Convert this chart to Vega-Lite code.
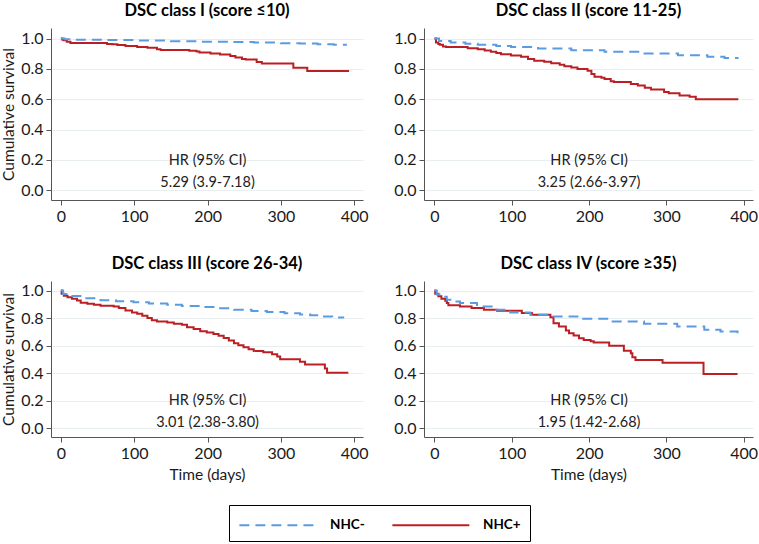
{
"$schema": "https://vega.github.io/schema/vega-lite/v6.json",
"padding": {"left": 1, "top": 2, "right": 0, "bottom": 0},
"background": "white",
"config": {
  "font": "Lato",
  "view": {"stroke": null},
  "title": {"fontSize": 16.5, "fontWeight": "bold", "color": "#000", "offset": 9, "font": "Lato"},
  "axis": {"domainColor": "#555", "tickColor": "#555", "tickSize": 5, "labelFontSize": 16, "labelColor": "#1a1a1a", "labelFont": "Lato", "titleFont": "Lato", "titleFontSize": 15.5, "titleFontWeight": "normal", "titleColor": "#1a1a1a", "gridColor": "#e9eff1", "labelPadding": 3, "labelOverlap": false},
  "axisX": {"grid": false},
  "legend": {"orient": "bottom", "direction": "horizontal", "strokeColor": "#000", "padding": 9, "offset": 22, "symbolType": "M-1,0H7", "symbolSize": 370, "symbolStrokeWidth": 2, "labelFontSize": 13.5, "labelFontWeight": "bold", "labelColor": "#000", "labelOffset": 70, "columnPadding": 23, "layout": {"bottom": {"anchor": "middle"}}}
},
"datasets": {
  "curves": [
    {"p":1,"g":"NHC+","t":0,"s":1.0},{"p":1,"g":"NHC+","t":2,"s":0.993},{"p":1,"g":"NHC+","t":4,"s":0.989},{"p":1,"g":"NHC+","t":8,"s":0.98},{"p":1,"g":"NHC+","t":13,"s":0.971},{"p":1,"g":"NHC+","t":63,"s":0.965},{"p":1,"g":"NHC+","t":70,"s":0.962},{"p":1,"g":"NHC+","t":77,"s":0.958},{"p":1,"g":"NHC+","t":88,"s":0.952},{"p":1,"g":"NHC+","t":104,"s":0.945},{"p":1,"g":"NHC+","t":118,"s":0.939},{"p":1,"g":"NHC+","t":131,"s":0.93},{"p":1,"g":"NHC+","t":136,"s":0.925},{"p":1,"g":"NHC+","t":175,"s":0.92},{"p":1,"g":"NHC+","t":185,"s":0.915},{"p":1,"g":"NHC+","t":189,"s":0.908},{"p":1,"g":"NHC+","t":204,"s":0.901},{"p":1,"g":"NHC+","t":217,"s":0.895},{"p":1,"g":"NHC+","t":231,"s":0.886},{"p":1,"g":"NHC+","t":238,"s":0.875},{"p":1,"g":"NHC+","t":247,"s":0.866},{"p":1,"g":"NHC+","t":252,"s":0.862},{"p":1,"g":"NHC+","t":267,"s":0.846},{"p":1,"g":"NHC+","t":274,"s":0.835},{"p":1,"g":"NHC+","t":317,"s":0.807},{"p":1,"g":"NHC+","t":336,"s":0.787},{"p":1,"g":"NHC+","t":393,"s":0.787},
    {"p":1,"g":"NHC-","t":0,"s":1.0},{"p":1,"g":"NHC-","t":5,"s":0.996},{"p":1,"g":"NHC-","t":20,"s":0.993},{"p":1,"g":"NHC-","t":60,"s":0.99},{"p":1,"g":"NHC-","t":100,"s":0.987},{"p":1,"g":"NHC-","t":150,"s":0.983},{"p":1,"g":"NHC-","t":190,"s":0.98},{"p":1,"g":"NHC-","t":230,"s":0.977},{"p":1,"g":"NHC-","t":263,"s":0.974},{"p":1,"g":"NHC-","t":300,"s":0.97},{"p":1,"g":"NHC-","t":326,"s":0.967},{"p":1,"g":"NHC-","t":350,"s":0.963},{"p":1,"g":"NHC-","t":372,"s":0.96},{"p":1,"g":"NHC-","t":390,"s":0.96},
    {"p":2,"g":"NHC+","t":0,"s":1.0},{"p":2,"g":"NHC+","t":2,"s":0.974},{"p":2,"g":"NHC+","t":5,"s":0.965},{"p":2,"g":"NHC+","t":7,"s":0.959},{"p":2,"g":"NHC+","t":11,"s":0.948},{"p":2,"g":"NHC+","t":15,"s":0.945},{"p":2,"g":"NHC+","t":43,"s":0.937},{"p":2,"g":"NHC+","t":56,"s":0.93},{"p":2,"g":"NHC+","t":65,"s":0.921},{"p":2,"g":"NHC+","t":73,"s":0.913},{"p":2,"g":"NHC+","t":80,"s":0.905},{"p":2,"g":"NHC+","t":86,"s":0.897},{"p":2,"g":"NHC+","t":99,"s":0.889},{"p":2,"g":"NHC+","t":112,"s":0.88},{"p":2,"g":"NHC+","t":121,"s":0.865},{"p":2,"g":"NHC+","t":129,"s":0.854},{"p":2,"g":"NHC+","t":142,"s":0.847},{"p":2,"g":"NHC+","t":151,"s":0.838},{"p":2,"g":"NHC+","t":162,"s":0.828},{"p":2,"g":"NHC+","t":168,"s":0.817},{"p":2,"g":"NHC+","t":177,"s":0.81},{"p":2,"g":"NHC+","t":185,"s":0.799},{"p":2,"g":"NHC+","t":198,"s":0.788},{"p":2,"g":"NHC+","t":203,"s":0.766},{"p":2,"g":"NHC+","t":207,"s":0.749},{"p":2,"g":"NHC+","t":216,"s":0.742},{"p":2,"g":"NHC+","t":220,"s":0.734},{"p":2,"g":"NHC+","t":228,"s":0.718},{"p":2,"g":"NHC+","t":232,"s":0.714},{"p":2,"g":"NHC+","t":254,"s":0.7},{"p":2,"g":"NHC+","t":263,"s":0.69},{"p":2,"g":"NHC+","t":272,"s":0.675},{"p":2,"g":"NHC+","t":280,"s":0.664},{"p":2,"g":"NHC+","t":297,"s":0.648},{"p":2,"g":"NHC+","t":303,"s":0.64},{"p":2,"g":"NHC+","t":317,"s":0.624},{"p":2,"g":"NHC+","t":330,"s":0.616},{"p":2,"g":"NHC+","t":338,"s":0.6},{"p":2,"g":"NHC+","t":393,"s":0.6},
    {"p":2,"g":"NHC-","t":0,"s":1.0},{"p":2,"g":"NHC-","t":6,"s":0.985},{"p":2,"g":"NHC-","t":21,"s":0.974},{"p":2,"g":"NHC-","t":40,"s":0.966},{"p":2,"g":"NHC-","t":56,"s":0.959},{"p":2,"g":"NHC-","t":80,"s":0.951},{"p":2,"g":"NHC-","t":99,"s":0.945},{"p":2,"g":"NHC-","t":134,"s":0.934},{"p":2,"g":"NHC-","t":177,"s":0.924},{"p":2,"g":"NHC-","t":220,"s":0.913},{"p":2,"g":"NHC-","t":267,"s":0.902},{"p":2,"g":"NHC-","t":315,"s":0.891},{"p":2,"g":"NHC-","t":353,"s":0.88},{"p":2,"g":"NHC-","t":375,"s":0.872},{"p":2,"g":"NHC-","t":392,"s":0.865},
    {"p":3,"g":"NHC+","t":0,"s":1.0},{"p":3,"g":"NHC+","t":1,"s":0.978},{"p":3,"g":"NHC+","t":4,"s":0.963},{"p":3,"g":"NHC+","t":9,"s":0.951},{"p":3,"g":"NHC+","t":15,"s":0.941},{"p":3,"g":"NHC+","t":22,"s":0.929},{"p":3,"g":"NHC+","t":27,"s":0.912},{"p":3,"g":"NHC+","t":36,"s":0.905},{"p":3,"g":"NHC+","t":45,"s":0.898},{"p":3,"g":"NHC+","t":54,"s":0.89},{"p":3,"g":"NHC+","t":72,"s":0.885},{"p":3,"g":"NHC+","t":79,"s":0.873},{"p":3,"g":"NHC+","t":88,"s":0.856},{"p":3,"g":"NHC+","t":97,"s":0.841},{"p":3,"g":"NHC+","t":104,"s":0.832},{"p":3,"g":"NHC+","t":111,"s":0.817},{"p":3,"g":"NHC+","t":118,"s":0.8},{"p":3,"g":"NHC+","t":124,"s":0.785},{"p":3,"g":"NHC+","t":131,"s":0.776},{"p":3,"g":"NHC+","t":145,"s":0.768},{"p":3,"g":"NHC+","t":154,"s":0.759},{"p":3,"g":"NHC+","t":165,"s":0.751},{"p":3,"g":"NHC+","t":172,"s":0.734},{"p":3,"g":"NHC+","t":181,"s":0.72},{"p":3,"g":"NHC+","t":190,"s":0.705},{"p":3,"g":"NHC+","t":199,"s":0.695},{"p":3,"g":"NHC+","t":208,"s":0.685},{"p":3,"g":"NHC+","t":215,"s":0.671},{"p":3,"g":"NHC+","t":222,"s":0.656},{"p":3,"g":"NHC+","t":229,"s":0.637},{"p":3,"g":"NHC+","t":236,"s":0.617},{"p":3,"g":"NHC+","t":242,"s":0.602},{"p":3,"g":"NHC+","t":249,"s":0.588},{"p":3,"g":"NHC+","t":256,"s":0.573},{"p":3,"g":"NHC+","t":263,"s":0.561},{"p":3,"g":"NHC+","t":276,"s":0.551},{"p":3,"g":"NHC+","t":288,"s":0.537},{"p":3,"g":"NHC+","t":295,"s":0.52},{"p":3,"g":"NHC+","t":299,"s":0.5},{"p":3,"g":"NHC+","t":326,"s":0.483},{"p":3,"g":"NHC+","t":333,"s":0.463},{"p":3,"g":"NHC+","t":360,"s":0.434},{"p":3,"g":"NHC+","t":363,"s":0.402},{"p":3,"g":"NHC+","t":392,"s":0.402},
    {"p":3,"g":"NHC-","t":0,"s":1.0},{"p":3,"g":"NHC-","t":3,"s":0.975},{"p":3,"g":"NHC-","t":10,"s":0.96},{"p":3,"g":"NHC-","t":30,"s":0.945},{"p":3,"g":"NHC-","t":54,"s":0.93},{"p":3,"g":"NHC-","t":75,"s":0.922},{"p":3,"g":"NHC-","t":99,"s":0.915},{"p":3,"g":"NHC-","t":120,"s":0.906},{"p":3,"g":"NHC-","t":145,"s":0.898},{"p":3,"g":"NHC-","t":165,"s":0.889},{"p":3,"g":"NHC-","t":190,"s":0.88},{"p":3,"g":"NHC-","t":210,"s":0.871},{"p":3,"g":"NHC-","t":236,"s":0.861},{"p":3,"g":"NHC-","t":260,"s":0.852},{"p":3,"g":"NHC-","t":281,"s":0.844},{"p":3,"g":"NHC-","t":305,"s":0.835},{"p":3,"g":"NHC-","t":326,"s":0.827},{"p":3,"g":"NHC-","t":340,"s":0.82},{"p":3,"g":"NHC-","t":354,"s":0.812},{"p":3,"g":"NHC-","t":370,"s":0.805},{"p":3,"g":"NHC-","t":385,"s":0.798},
    {"p":4,"g":"NHC+","t":0,"s":1.0},{"p":4,"g":"NHC+","t":1,"s":0.978},{"p":4,"g":"NHC+","t":5,"s":0.959},{"p":4,"g":"NHC+","t":9,"s":0.941},{"p":4,"g":"NHC+","t":14,"s":0.927},{"p":4,"g":"NHC+","t":16,"s":0.91},{"p":4,"g":"NHC+","t":18,"s":0.893},{"p":4,"g":"NHC+","t":33,"s":0.885},{"p":4,"g":"NHC+","t":48,"s":0.873},{"p":4,"g":"NHC+","t":64,"s":0.861},{"p":4,"g":"NHC+","t":81,"s":0.854},{"p":4,"g":"NHC+","t":113,"s":0.837},{"p":4,"g":"NHC+","t":126,"s":0.824},{"p":4,"g":"NHC+","t":150,"s":0.807},{"p":4,"g":"NHC+","t":154,"s":0.763},{"p":4,"g":"NHC+","t":161,"s":0.739},{"p":4,"g":"NHC+","t":170,"s":0.71},{"p":4,"g":"NHC+","t":174,"s":0.69},{"p":4,"g":"NHC+","t":180,"s":0.673},{"p":4,"g":"NHC+","t":187,"s":0.654},{"p":4,"g":"NHC+","t":193,"s":0.641},{"p":4,"g":"NHC+","t":202,"s":0.632},{"p":4,"g":"NHC+","t":206,"s":0.622},{"p":4,"g":"NHC+","t":226,"s":0.598},{"p":4,"g":"NHC+","t":245,"s":0.563},{"p":4,"g":"NHC+","t":254,"s":0.544},{"p":4,"g":"NHC+","t":256,"s":0.515},{"p":4,"g":"NHC+","t":260,"s":0.495},{"p":4,"g":"NHC+","t":295,"s":0.476},{"p":4,"g":"NHC+","t":348,"s":0.393},{"p":4,"g":"NHC+","t":392,"s":0.393},
    {"p":4,"g":"NHC-","t":0,"s":1.0},{"p":4,"g":"NHC-","t":3,"s":0.971},{"p":4,"g":"NHC-","t":8,"s":0.955},{"p":4,"g":"NHC-","t":16,"s":0.934},{"p":4,"g":"NHC-","t":25,"s":0.92},{"p":4,"g":"NHC-","t":33,"s":0.91},{"p":4,"g":"NHC-","t":55,"s":0.885},{"p":4,"g":"NHC-","t":77,"s":0.861},{"p":4,"g":"NHC-","t":98,"s":0.841},{"p":4,"g":"NHC-","t":124,"s":0.824},{"p":4,"g":"NHC-","t":150,"s":0.812},{"p":4,"g":"NHC-","t":185,"s":0.795},{"p":4,"g":"NHC-","t":228,"s":0.776},{"p":4,"g":"NHC-","t":271,"s":0.759},{"p":4,"g":"NHC-","t":314,"s":0.739},{"p":4,"g":"NHC-","t":349,"s":0.715},{"p":4,"g":"NHC-","t":370,"s":0.703},{"p":4,"g":"NHC-","t":392,"s":0.69}
  ]
},
"columns": 2,
"spacing": {"row": 31, "column": 24},
"concat": [
  {
    "title": "DSC class I (score ≤10)",
    "width": 312, "height": 172,
    "layer": [
      {
        "data": {"name": "curves"},
        "transform": [{"filter": "datum.p == 1"}],
        "mark": {"type": "line", "interpolate": "step-after", "strokeWidth": 2},
        "encoding": {
          "x": {"field": "t", "type": "quantitative", "scale": {"domain": [-13.5, 412], "nice": false, "zero": false}, "axis": {"values": [0,100,200,300,400], "title": null}},
          "y": {"field": "s", "type": "quantitative", "scale": {"domain": [-0.065, 1.07], "nice": false}, "axis": {"values": [0,0.2,0.4,0.6,0.8,1], "format": ".1f", "title": "Cumulative survival", "titlePadding": 4, "labelOverlap": false}},
          "color": {"field": "g", "type": "nominal", "scale": {"domain": ["NHC-","NHC+"], "range": ["#5b9bdf","#bb1e23"]}, "legend": {"title": null}},
          "strokeDash": {"field": "g", "type": "nominal", "scale": {"domain": ["NHC-","NHC+"], "range": [[10,6],[1,0]]}, "legend": {"title": null}}
        }
      },
      {
        "data": {"values": [{}]},
        "mark": {"type": "text", "fontSize": 14.5, "lineHeight": 22, "color": "#222", "baseline": "middle", "align": "center"},
        "encoding": {"x": {"datum": 200, "axis": {"values": [0,100,200,300,400], "title": null}}, "y": {"datum": 0.195, "axis": {"values": [0,0.2,0.4,0.6,0.8,1], "format": ".1f", "title": "Cumulative survival", "titlePadding": 4, "labelOverlap": false}}, "text": {"value": ["HR (95% CI)", "5.29 (3.9-7.18)"]}}
      }
    ]
  },
  {
    "title": "DSC class II (score 11-25)",
    "width": 329, "height": 172,
    "layer": [
      {
        "data": {"name": "curves"},
        "transform": [{"filter": "datum.p == 2"}],
        "mark": {"type": "line", "interpolate": "step-after", "strokeWidth": 2},
        "encoding": {
          "x": {"field": "t", "type": "quantitative", "scale": {"domain": [-13.5, 412], "nice": false, "zero": false}, "axis": {"values": [0,100,200,300,400], "title": null}},
          "y": {"field": "s", "type": "quantitative", "scale": {"domain": [-0.065, 1.07], "nice": false}, "axis": {"values": [0,0.2,0.4,0.6,0.8,1], "format": ".1f", "title": null, "labelOverlap": false}},
          "color": {"field": "g", "type": "nominal", "scale": {"domain": ["NHC-","NHC+"], "range": ["#5b9bdf","#bb1e23"]}, "legend": {"title": null}},
          "strokeDash": {"field": "g", "type": "nominal", "scale": {"domain": ["NHC-","NHC+"], "range": [[10,6],[1,0]]}, "legend": {"title": null}}
        }
      },
      {
        "data": {"values": [{}]},
        "mark": {"type": "text", "fontSize": 14.5, "lineHeight": 22, "color": "#222", "baseline": "middle", "align": "center"},
        "encoding": {"x": {"datum": 200, "axis": {"values": [0,100,200,300,400], "title": null}}, "y": {"datum": 0.195, "axis": {"values": [0,0.2,0.4,0.6,0.8,1], "format": ".1f", "title": null, "labelOverlap": false}}, "text": {"value": ["HR (95% CI)", "3.25 (2.66-3.97)"]}}
      }
    ]
  },
  {
    "title": "DSC class III (score 26-34)",
    "width": 312, "height": 156,
    "layer": [
      {
        "data": {"name": "curves"},
        "transform": [{"filter": "datum.p == 3"}],
        "mark": {"type": "line", "interpolate": "step-after", "strokeWidth": 2},
        "encoding": {
          "x": {"field": "t", "type": "quantitative", "scale": {"domain": [-13.5, 412], "nice": false, "zero": false}, "axis": {"values": [0,100,200,300,400], "title": "Time (days)", "titlePadding": 6}},
          "y": {"field": "s", "type": "quantitative", "scale": {"domain": [-0.065, 1.07], "nice": false}, "axis": {"values": [0,0.2,0.4,0.6,0.8,1], "format": ".1f", "title": "Cumulative survival", "titlePadding": 4, "labelOverlap": false}},
          "color": {"field": "g", "type": "nominal", "scale": {"domain": ["NHC-","NHC+"], "range": ["#5b9bdf","#bb1e23"]}, "legend": {"title": null}},
          "strokeDash": {"field": "g", "type": "nominal", "scale": {"domain": ["NHC-","NHC+"], "range": [[10,6],[1,0]]}, "legend": {"title": null}}
        }
      },
      {
        "data": {"values": [{}]},
        "mark": {"type": "text", "fontSize": 14.5, "lineHeight": 22, "color": "#222", "baseline": "middle", "align": "center"},
        "encoding": {"x": {"datum": 200, "axis": {"values": [0,100,200,300,400], "title": "Time (days)", "titlePadding": 6}}, "y": {"datum": 0.2, "axis": {"values": [0,0.2,0.4,0.6,0.8,1], "format": ".1f", "title": "Cumulative survival", "titlePadding": 4, "labelOverlap": false}}, "text": {"value": ["HR (95% CI)", "3.01 (2.38-3.80)"]}}
      }
    ]
  },
  {
    "title": "DSC class IV (score ≥35)",
    "width": 329, "height": 156,
    "layer": [
      {
        "data": {"name": "curves"},
        "transform": [{"filter": "datum.p == 4"}],
        "mark": {"type": "line", "interpolate": "step-after", "strokeWidth": 2},
        "encoding": {
          "x": {"field": "t", "type": "quantitative", "scale": {"domain": [-13.5, 412], "nice": false, "zero": false}, "axis": {"values": [0,100,200,300,400], "title": "Time (days)", "titlePadding": 6}},
          "y": {"field": "s", "type": "quantitative", "scale": {"domain": [-0.065, 1.07], "nice": false}, "axis": {"values": [0,0.2,0.4,0.6,0.8,1], "format": ".1f", "title": null, "labelOverlap": false}},
          "color": {"field": "g", "type": "nominal", "scale": {"domain": ["NHC-","NHC+"], "range": ["#5b9bdf","#bb1e23"]}, "legend": {"title": null}},
          "strokeDash": {"field": "g", "type": "nominal", "scale": {"domain": ["NHC-","NHC+"], "range": [[10,6],[1,0]]}, "legend": {"title": null}}
        }
      },
      {
        "data": {"values": [{}]},
        "mark": {"type": "text", "fontSize": 14.5, "lineHeight": 22, "color": "#222", "baseline": "middle", "align": "center"},
        "encoding": {"x": {"datum": 200, "axis": {"values": [0,100,200,300,400], "title": "Time (days)", "titlePadding": 6}}, "y": {"datum": 0.2, "axis": {"values": [0,0.2,0.4,0.6,0.8,1], "format": ".1f", "title": null, "labelOverlap": false}}, "text": {"value": ["HR (95% CI)", "1.95 (1.42-2.68)"]}}
      }
    ]
  }
],
"resolve": {"scale": {"x": "independent", "y": "independent", "color": "shared", "strokeDash": "shared"}}
}
